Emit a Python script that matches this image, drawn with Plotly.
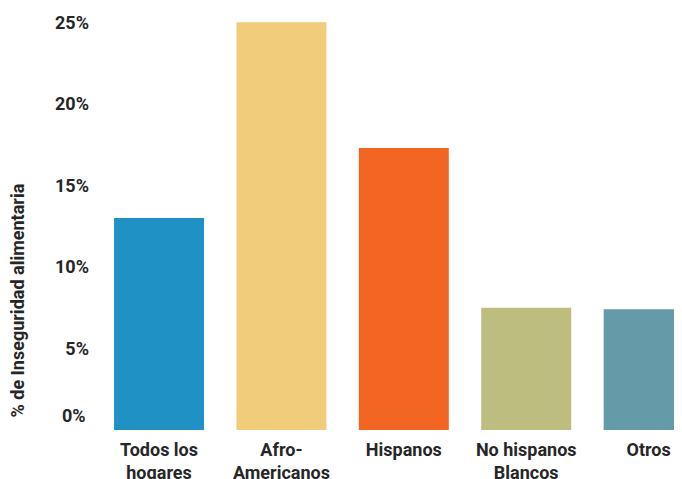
import plotly.graph_objects as go

categories = ["Todos los<br>hogares", "Afro-<br>Americanos", "Hispanos", "No hispanos<br>Blancos", "Otros"]
values = [13.0, 25.0, 17.3, 7.5, 7.4]
colors = ["#1f91c5", "#f1cc7a", "#f26522", "#bdbd80", "#659ba9"]
tick_vals = [5, 10, 15, 20, 25]
tick_text = ["5%", "10%", "15%", "20%", "25%"]

font_family = "Roboto, Arial, sans-serif"
text_color = "#262626"
fs = 18

fig = go.Figure(go.Bar(
    x=list(range(len(categories))),
    y=values,
    marker=dict(color=colors, line=dict(width=0)),
    width=0.735,
    hoverinfo="skip",
))

fig.update_layout(
    width=682, height=479,
    margin=dict(l=82, r=0, t=7, b=57),
    paper_bgcolor="white", plot_bgcolor="white",
    showlegend=False,
    font=dict(family=font_family, size=fs, color=text_color),
    xaxis=dict(
        tickmode="array", tickvals=list(range(len(categories))), ticktext=categories,
        range=[-0.564, 4.338], showgrid=False, zeroline=False, showline=False,
        ticks="", ticklabelstandoff=7,
        tickfont=dict(family=font_family, size=fs, color=text_color, weight="bold"),
    ),
    yaxis=dict(
        tickmode="array", tickvals=tick_vals, ticktext=tick_text,
        range=[0, 25.45], showgrid=False, zeroline=False, showline=False,
        ticks="", tickfont=dict(family=font_family, size=fs, color=text_color, weight="bold"),
    ),
    annotations=[
        dict(text="0%", x=0, y=0, xref="paper", yref="y", xanchor="right", yanchor="middle",
             xshift=-2, yshift=15, showarrow=False,
             font=dict(family=font_family, size=fs, color=text_color, weight="bold")),
        dict(text="% de Inseguridad alimentaria", x=-0.12, y=0.312, xref="paper", yref="paper",
             textangle=-90, showarrow=False, xanchor="center", yanchor="middle",
             font=dict(family=font_family, size=fs, color=text_color, weight="bold")),
    ],
)

fig.write_html("out.html")
